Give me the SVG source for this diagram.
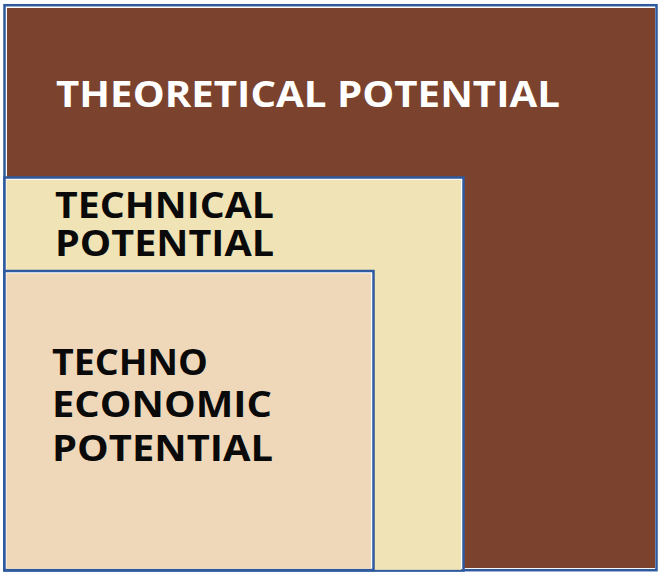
<svg xmlns="http://www.w3.org/2000/svg" width="658" height="572" viewBox="0 0 658 572">
<style>
.frame{fill:#ffffff;stroke:#2F5A9E;stroke-width:2.5}
.lbl{font-family:"Open Sans","Noto Sans","Liberation Sans",sans-serif;font-weight:700;font-size:36.5px}
.dark{fill:#0a0a0a}
.light{fill:#ffffff}
</style>
<rect width="658" height="572" fill="#ffffff"/>
<g id="theoretical">
<rect class="frame" x="4.5" y="5.2" width="652" height="565"/>
<rect x="7" y="8" width="648" height="560" fill="#7B432E"/>
<text class="lbl light" x="56" y="107" textLength="504" lengthAdjust="spacingAndGlyphs">THEORETICAL POTENTIAL</text>
</g>
<g id="technical">
<rect class="frame" x="4.5" y="177.5" width="459" height="393"/>
<rect x="6.5" y="179.8" width="454.5" height="390" fill="#F0E3B5"/>
<text class="lbl dark" x="55" y="217.5" textLength="219" lengthAdjust="spacingAndGlyphs">TECHNICAL</text>
<text class="lbl dark" x="55" y="256" textLength="219" lengthAdjust="spacingAndGlyphs">POTENTIAL</text>
</g>
<g id="techno-economic">
<rect class="frame" x="4.5" y="271" width="369" height="299"/>
<rect x="6.5" y="273.3" width="364.5" height="295.5" fill="#EFD8BA"/>
<text class="lbl dark" x="52" y="375" textLength="156" lengthAdjust="spacingAndGlyphs">TECHNO</text>
<text class="lbl dark" x="52" y="417" textLength="220" lengthAdjust="spacingAndGlyphs">ECONOMIC</text>
<text class="lbl dark" x="52" y="460.5" textLength="221" lengthAdjust="spacingAndGlyphs">POTENTIAL</text>
</g>
<g id="connectors"/>
</svg>
